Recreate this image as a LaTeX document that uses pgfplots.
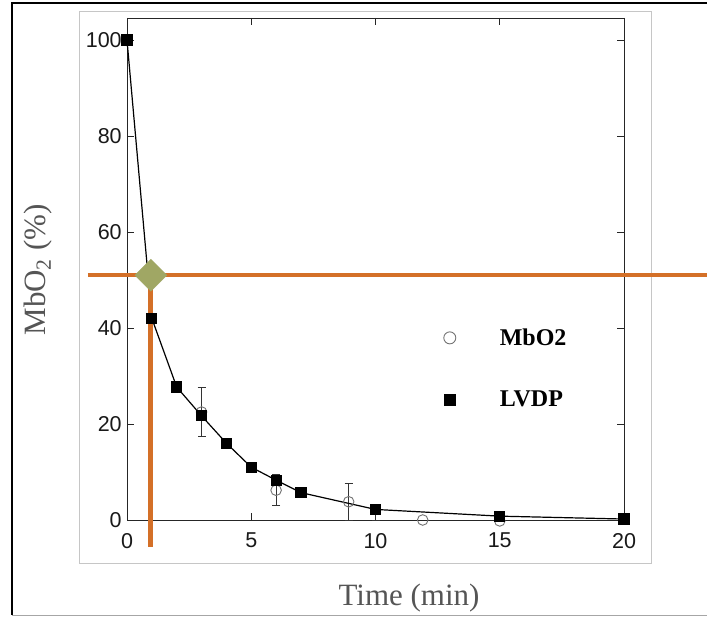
\documentclass[border=0pt]{standalone}
\usepackage{fontspec}
\setmainfont{Liberation Serif}
\newfontfamily\arialfont{Liberation Sans}
\usepackage{pgfplots}
\pgfplotsset{compat=1.18}
\definecolor{orangeline}{RGB}{212,112,40}
\definecolor{diamondgreen}{RGB}{160,167,100}
\definecolor{labelgray}{RGB}{85,85,85}
\begin{document}
\begin{tikzpicture}[x=1pt,y=1pt]
\path[use as bounding box, fill=white] (0,0) rectangle (707,617);
\draw[black, line width=1.6pt] (12,2) -- (12,614) -- (720,614);
\draw[gray!70, line width=1.2pt] (12,1.5) -- (720,1.5);
\draw[gray!45, line width=0.9pt] (79,54) rectangle (651,606);
\begin{axis}[
 at={(127pt,97pt)}, anchor=south west,
 scale only axis, width=497pt, height=502pt,
 xmin=0, xmax=20, ymin=0, ymax=104.6,
 xtick={0,5,10,15,20}, ytick={0,20,40,60,80,100},
 tick align=inside, major tick length=7pt,
 minor tick num=0,
 axis line style={black!85, line width=0.8pt},
 tick style={black!85, line width=0.8pt},
 /pgf/number format/assume math mode=true,
 ticklabel style={font=\arialfont\fontsize{21.5}{24}\selectfont, text=black!90},
 xticklabel shift=9.5pt, yticklabel shift=1.8pt,
 clip=false,
 legend style={at={(axis cs:12.74,40.3)}, anchor=north west, draw=none, fill=none, inner sep=0pt, row sep=40pt, font=\bfseries\fontsize{24}{28}\selectfont, /tikz/every odd column/.append style={column sep=42pt}},
 legend cell align=left,
]
% MbO2 with error bars
\addplot[forget plot, only marks, mark=o, mark size=5.3pt,
  mark options={draw=black!55, fill=white, line width=0.9pt},
  error bars/.cd, y dir=both, y explicit,
  error bar style={black!80, line width=0.8pt},
  error mark options={rotate=90, mark size=4pt, black!80, line width=0.8pt}]
  coordinates {(3,22.5) +- (0,5.1) (6,6.2) +- (0,3.2) (8.92,3.8) +- (0,3.9)};
\addplot[forget plot, only marks, mark=o, mark size=5.3pt,
  mark options={draw=black!55, fill=white, line width=0.9pt}]
  coordinates {(11.9,0) (15,-0.2)};
% LVDP error bar at 10
\addplot[forget plot, draw=none, mark=none,
  error bars/.cd, y dir=minus, y explicit,
  error bar style={black!80, line width=0.8pt},
  error mark options={rotate=90, mark size=4pt, black!80, line width=0.8pt}]
  coordinates {(10,2.2) -= (0,2.2)};
% LVDP
\addplot[forget plot, black, line width=1.2pt, mark=square*, mark size=5pt,
  mark options={solid, fill=black}]
  coordinates {(0,100) (1,42) (2,27.7) (3,21.7) (4,16) (5,11) (6,8.3) (7,5.7) (10,2.2) (15,0.8) (20,0.2)};
% orange guide lines
\addplot[forget plot, orangeline, line width=4.5pt, mark=none] coordinates {(-1.57,51) (23.6,51)};
\addplot[forget plot, orangeline, line width=5pt, mark=none] coordinates {(0.96,51) (0.96,-5.6)};
\addplot[forget plot, only marks, mark=diamond*, mark size=16pt,
  mark options={diamondgreen, xscale=1.333}] coordinates {(0.96,51)};
% legend
\addlegendimage{only marks, mark=o, mark size=6pt, mark options={draw=black!55, line width=0.9pt}}
\addlegendentry{MbO2}
\addlegendimage{only marks, mark=square*, mark size=5.5pt, mark options={fill=black}}
\addlegendentry{LVDP}
\end{axis}
\node[anchor=base, font=\fontsize{31}{36}\selectfont, text=labelgray] at (409,11) {Time (min)};
\node[anchor=base, rotate=90, font=\fontsize{31}{36}\selectfont, text=labelgray] at (45,347) {MbO\textsubscript{2} (\%)};
\end{tikzpicture}
\end{document}
